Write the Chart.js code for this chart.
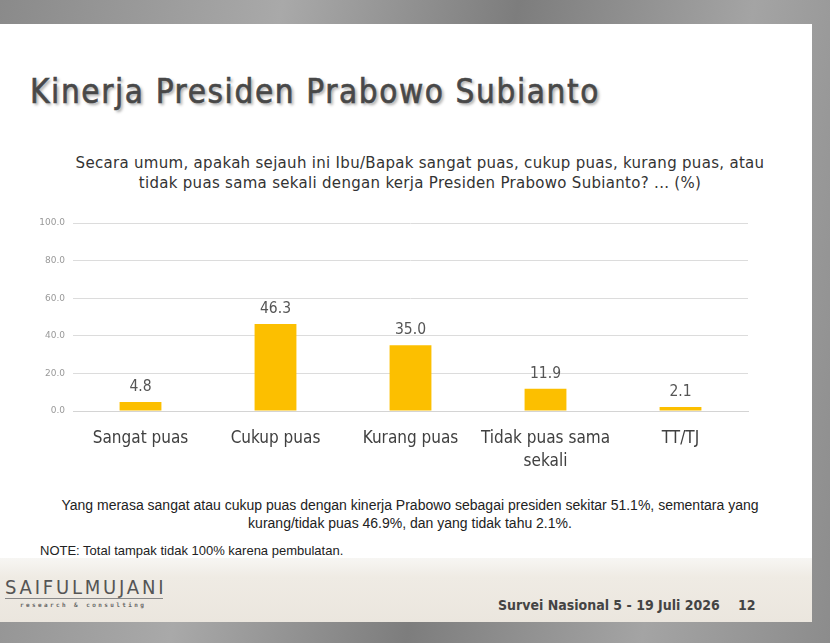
<!DOCTYPE html>
<html>
<head>
<meta charset="utf-8">
<script src="https://cdn.jsdelivr.net/npm/chart.js@4"></script>
<style>
  html, body { margin: 0; padding: 0; }
  body {
    width: 830px; height: 643px; overflow: hidden; position: relative;
    background: linear-gradient(100deg, #8a8a8a 0%, #a9a9a9 30%, #7d7d7d 55%, #a4a4a4 80%, #8c8c8c 100%);
  }
  .slide {
    position: absolute; left: 0; top: 24px; width: 812px; height: 536px;
    background: #ffffff;
  }
  .footer {
    position: absolute; left: 0; top: 558px; width: 812px; height: 64px;
    background: linear-gradient(180deg, #f7f6f3 0%, #efebe4 30%, #ebe6de 100%);
  }
  .title {
    position: absolute; left: 30px; top: 72px; margin: 0;
    font-family: "DejaVu Sans Condensed", "DejaVu Sans", sans-serif;
    font-size: 33px; line-height: 40px; font-weight: normal; color: #484848;
    letter-spacing: 1.6px; -webkit-text-stroke: 0.6px #484848;
    text-shadow: 2px 2px 3px rgba(0,0,0,0.35);
  }
  .question {
    position: absolute; left: 40px; top: 153px; width: 760px; text-align: center;
    font-family: "DejaVu Sans", sans-serif; font-size: 15px; line-height: 20px; color: #333;
    letter-spacing: 0.3px;
  }
  .summary {
    position: absolute; left: 30px; top: 496px; width: 760px; text-align: center;
    font-family: "Liberation Sans Narrow", "Liberation Sans", Arial, sans-serif;
    font-size: 14px; line-height: 18px; color: #222;
  }
  .note {
    position: absolute; left: 40px; top: 543px;
    font-family: "Liberation Sans Narrow", "Liberation Sans", Arial, sans-serif;
    font-size: 13px; color: #222;
  }
  .logo {
    position: absolute; left: 5px; top: 576px; width: 158px;
    font-family: "DejaVu Sans Condensed", "DejaVu Sans", sans-serif;
    font-size: 20px; color: #555; letter-spacing: 2.8px;
    border-bottom: 1px solid #888; line-height: 22px; white-space: nowrap;
  }
  .logo-sub {
    position: absolute; left: 20px; top: 601px;
    font-family: "DejaVu Sans Mono", monospace; font-size: 6px; font-weight: bold;
    letter-spacing: 2.4px; color: #666;
  }
  .survey {
    position: absolute; left: 498px; top: 597px;
    font-family: "DejaVu Sans Condensed", "DejaVu Sans", sans-serif;
    font-size: 14px; font-weight: bold; color: #444; white-space: pre;
  }
  .page {
    position: absolute; left: 738px; top: 597px;
    font-family: "DejaVu Sans Condensed", "DejaVu Sans", sans-serif;
    font-size: 14px; font-weight: bold; color: #444;
  }
  #chartBox { position: absolute; left: 0; top: 200px; width: 830px; height: 280px; }
</style>
</head>
<body>
<div class="slide"></div>
<div class="footer"></div>
<h1 class="title">Kinerja Presiden Prabowo Subianto</h1>
<div class="question">Secara umum, apakah sejauh ini Ibu/Bapak sangat puas, cukup puas, kurang puas, atau<br>tidak puas sama sekali dengan kerja Presiden Prabowo Subianto? ... (%)</div>
<div class="summary">Yang merasa sangat atau cukup puas dengan kinerja Prabowo sebagai presiden sekitar 51.1%, sementara yang<br>kurang/tidak puas 46.9%, dan yang tidak tahu 2.1%.</div>
<div class="note">NOTE: Total tampak tidak 100% karena pembulatan.</div>
<div class="logo">SAIFULMUJANI</div>
<div class="logo-sub">research &amp; consulting</div>
<div class="survey">Survei Nasional 5 - 19 Juli 2026</div>
<div class="page">12</div>
<div id="chartBox"><canvas id="chart"></canvas></div>

<script>
// Chart data
const categories = ['Sangat puas', 'Cukup puas', 'Kurang puas', ['Tidak puas sama', 'sekali'], 'TT/TJ'];
const values = [4.8, 46.3, 35.0, 11.9, 2.1];
const yTicks = [0, 20, 40, 60, 80, 100];

// Value labels above each bar
const valueLabels = {
    id: 'valueLabels',
    afterDatasetsDraw(chart) {
        const ctx = chart.ctx;
        const meta = chart.getDatasetMeta(0);
        ctx.save();
        ctx.font = '15.5px "DejaVu Sans Condensed", "DejaVu Sans", sans-serif';
        ctx.fillStyle = '#555';
        ctx.textAlign = 'center';
        ctx.textBaseline = 'bottom';
        meta.data.forEach((bar, i) => {
            ctx.fillText(values[i].toFixed(1), bar.x, bar.y - 7);
        });
        ctx.restore();
    }
};

new Chart(document.getElementById('chart'), {
    type: 'bar',
    data: {
        labels: categories,
        datasets: [{
            data: values,
            backgroundColor: '#fcbf00',
            barPercentage: 0.31,
            categoryPercentage: 1.0
        }]
    },
    options: {
        responsive: true,
        maintainAspectRatio: false,
        animation: false,
        layout: { padding: { left: 0, right: 82, top: 23, bottom: 0 } },
        plugins: {
            legend: { display: false },
            tooltip: { enabled: false }
        },
        scales: {
            x: {
                grid: { display: false, drawTicks: false },
                border: { color: '#d4d4d4' },
                ticks: {
                    padding: 16,
                    maxRotation: 0,
                    minRotation: 0,
                    autoSkip: false,
                    color: '#404040',
                    font: { family: '"DejaVu Sans Condensed", "DejaVu Sans", sans-serif', size: 17, lineHeight: 1.35 }
                },
                afterFit(scale) { scale.height = 69; }
            },
            y: {
                min: 0,
                max: 100,
                afterBuildTicks(scale) { scale.ticks = yTicks.map(v => ({ value: v })); },
                grid: { color: '#dcdcdc', drawTicks: false },
                border: { display: false },
                ticks: {
                    padding: 8,
                    color: '#999',
                    font: { family: '"DejaVu Sans", sans-serif', size: 9 },
                    callback: v => v.toFixed(1)
                },
                afterFit(scale) { scale.width = 73; }
            }
        }
    },
    plugins: [valueLabels]
});
</script>
</body>
</html>
